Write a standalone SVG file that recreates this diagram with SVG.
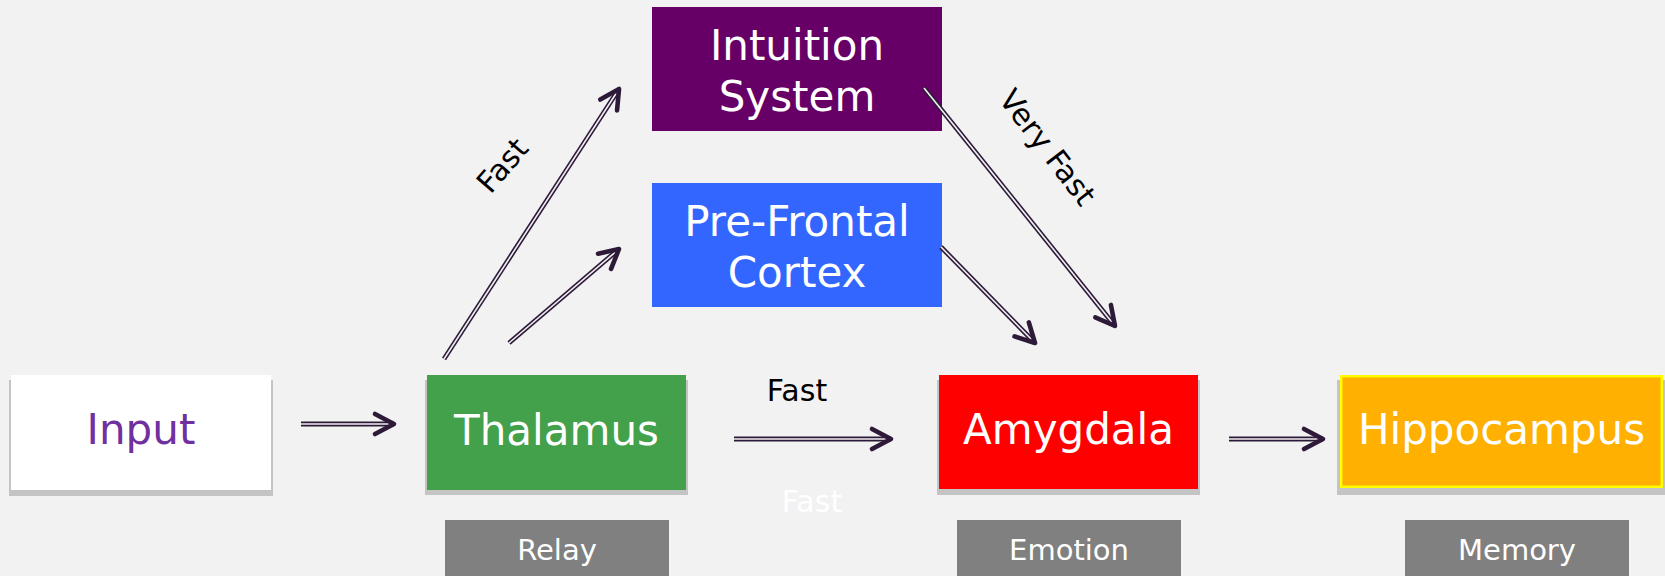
<svg xmlns="http://www.w3.org/2000/svg" width="1665" height="576" viewBox="0 0 1665 576">
  <style>
    text { font-family: "DejaVu Sans", Verdana, sans-serif; }
    .node-text { font-size: 42px; fill: #ffffff; text-anchor: middle; }
    .tag-text { font-size: 29px; fill: #ffffff; text-anchor: middle; }
    .edge-label { font-size: 30px; fill: #000000; text-anchor: middle; }
    .shadow { fill: #c4c4c4; }
    .tag { fill: #808080; }
    .shaft { fill: none; stroke: #2d1a38; stroke-width: 4.8; }
    .gap { fill: none; stroke: #f2eff2; stroke-width: 1.6; }
  </style>
  <defs>
    <marker id="chevron" markerUnits="userSpaceOnUse" viewBox="-24 -15 28 30" refX="0" refY="0" markerWidth="28" markerHeight="30" orient="auto" overflow="visible">
      <path d="M -19 -10 L 0 0 L -19 10" fill="none" stroke="#2d1a38" stroke-width="4.6" stroke-linecap="round" stroke-linejoin="round"/>
    </marker>
  </defs>

  <!-- backdrop -->
  <rect x="0" y="0" width="1665" height="576" fill="#f2f2f2"/>

  <!-- nodes -->
  <g id="input">
    <rect class="shadow" x="9" y="380" width="264" height="116"/>
    <rect x="11" y="375" width="260" height="115" fill="#ffffff"/>
    <text class="node-text" x="141" y="444" style="fill:#7030a0">Input</text>
  </g>

  <g id="thalamus">
    <rect class="shadow" x="425" y="380" width="263" height="115"/>
    <rect x="427" y="375" width="259" height="115" fill="#43a04b"/>
    <text class="node-text" x="556.5" y="445">Thalamus</text>
  </g>

  <g id="amygdala">
    <rect class="shadow" x="937" y="380" width="263" height="115"/>
    <rect x="939" y="375" width="259" height="114" fill="#ff0000"/>
    <text class="node-text" x="1068.5" y="444">Amygdala</text>
  </g>

  <g id="hippocampus">
    <rect class="shadow" x="1337" y="380" width="328" height="115"/>
    <rect x="1341.2" y="376.2" width="320.6" height="110.6" fill="#ffb000" stroke="#ffff00" stroke-width="2.4"/>
    <text class="node-text" x="1501.5" y="444">Hippocampus</text>
  </g>

  <g id="intuition-system">
    <rect x="652" y="7" width="290" height="124" fill="#660066"/>
    <text class="node-text" x="797" y="60">Intuition</text>
    <text class="node-text" x="797" y="111">System</text>
  </g>

  <g id="prefrontal-cortex">
    <rect x="652" y="183" width="290" height="124" fill="#3366ff"/>
    <text class="node-text" x="797" y="236">Pre-Frontal</text>
    <text class="node-text" x="797" y="287">Cortex</text>
  </g>

  <g id="relay">
    <rect class="tag" x="445" y="520" width="224" height="60"/>
    <text class="tag-text" x="557" y="560">Relay</text>
  </g>

  <g id="emotion">
    <rect class="tag" x="957" y="520" width="224" height="60"/>
    <text class="tag-text" x="1069" y="560">Emotion</text>
  </g>

  <g id="memory">
    <rect class="tag" x="1405" y="520" width="224" height="60"/>
    <text class="tag-text" x="1517" y="560">Memory</text>
  </g>

  <!-- connectors: double-line shafts with open chevron heads, drawn over the boxes -->
  <g id="connectors">
    <g id="input-thalamus">
      <path class="shaft" d="M 301 424 L 394 424"/>
      <path class="gap" d="M 301 424 L 394 424" marker-end="url(#chevron)"/>
    </g>
    <g id="thalamus-amygdala">
      <path class="shaft" d="M 734 439 L 891 439"/>
      <path class="gap" d="M 734 439 L 891 439" marker-end="url(#chevron)"/>
    </g>
    <g id="amygdala-hippocampus">
      <path class="shaft" d="M 1229 439 L 1323 439"/>
      <path class="gap" d="M 1229 439 L 1323 439" marker-end="url(#chevron)"/>
    </g>
    <g id="thalamus-intuition">
      <path class="shaft" d="M 444 359 L 619 89"/>
      <path class="gap" d="M 444 359 L 619 89" marker-end="url(#chevron)"/>
    </g>
    <g id="thalamus-prefrontal">
      <path class="shaft" d="M 509 343 L 619 249"/>
      <path class="gap" d="M 509 343 L 619 249" marker-end="url(#chevron)"/>
    </g>
    <g id="intuition-amygdala">
      <path class="shaft" d="M 924 88 L 1115 326"/>
      <path class="gap" d="M 924 88 L 1115 326" marker-end="url(#chevron)"/>
    </g>
    <g id="prefrontal-amygdala">
      <path class="shaft" d="M 941 247 L 1035 343"/>
      <path class="gap" d="M 941 247 L 1035 343" marker-end="url(#chevron)"/>
    </g>
    <!-- connector labels -->
    <text class="edge-label" x="797" y="401">Fast</text>
    <text class="edge-label" x="812" y="512" style="fill:#ffffff">Fast</text>
    <text class="edge-label" transform="translate(502 165) rotate(-49)" x="0" y="11">Fast</text>
    <text class="edge-label" transform="translate(1048 147) rotate(52.5)" x="0" y="11">Very Fast</text>
  </g>
</svg>
